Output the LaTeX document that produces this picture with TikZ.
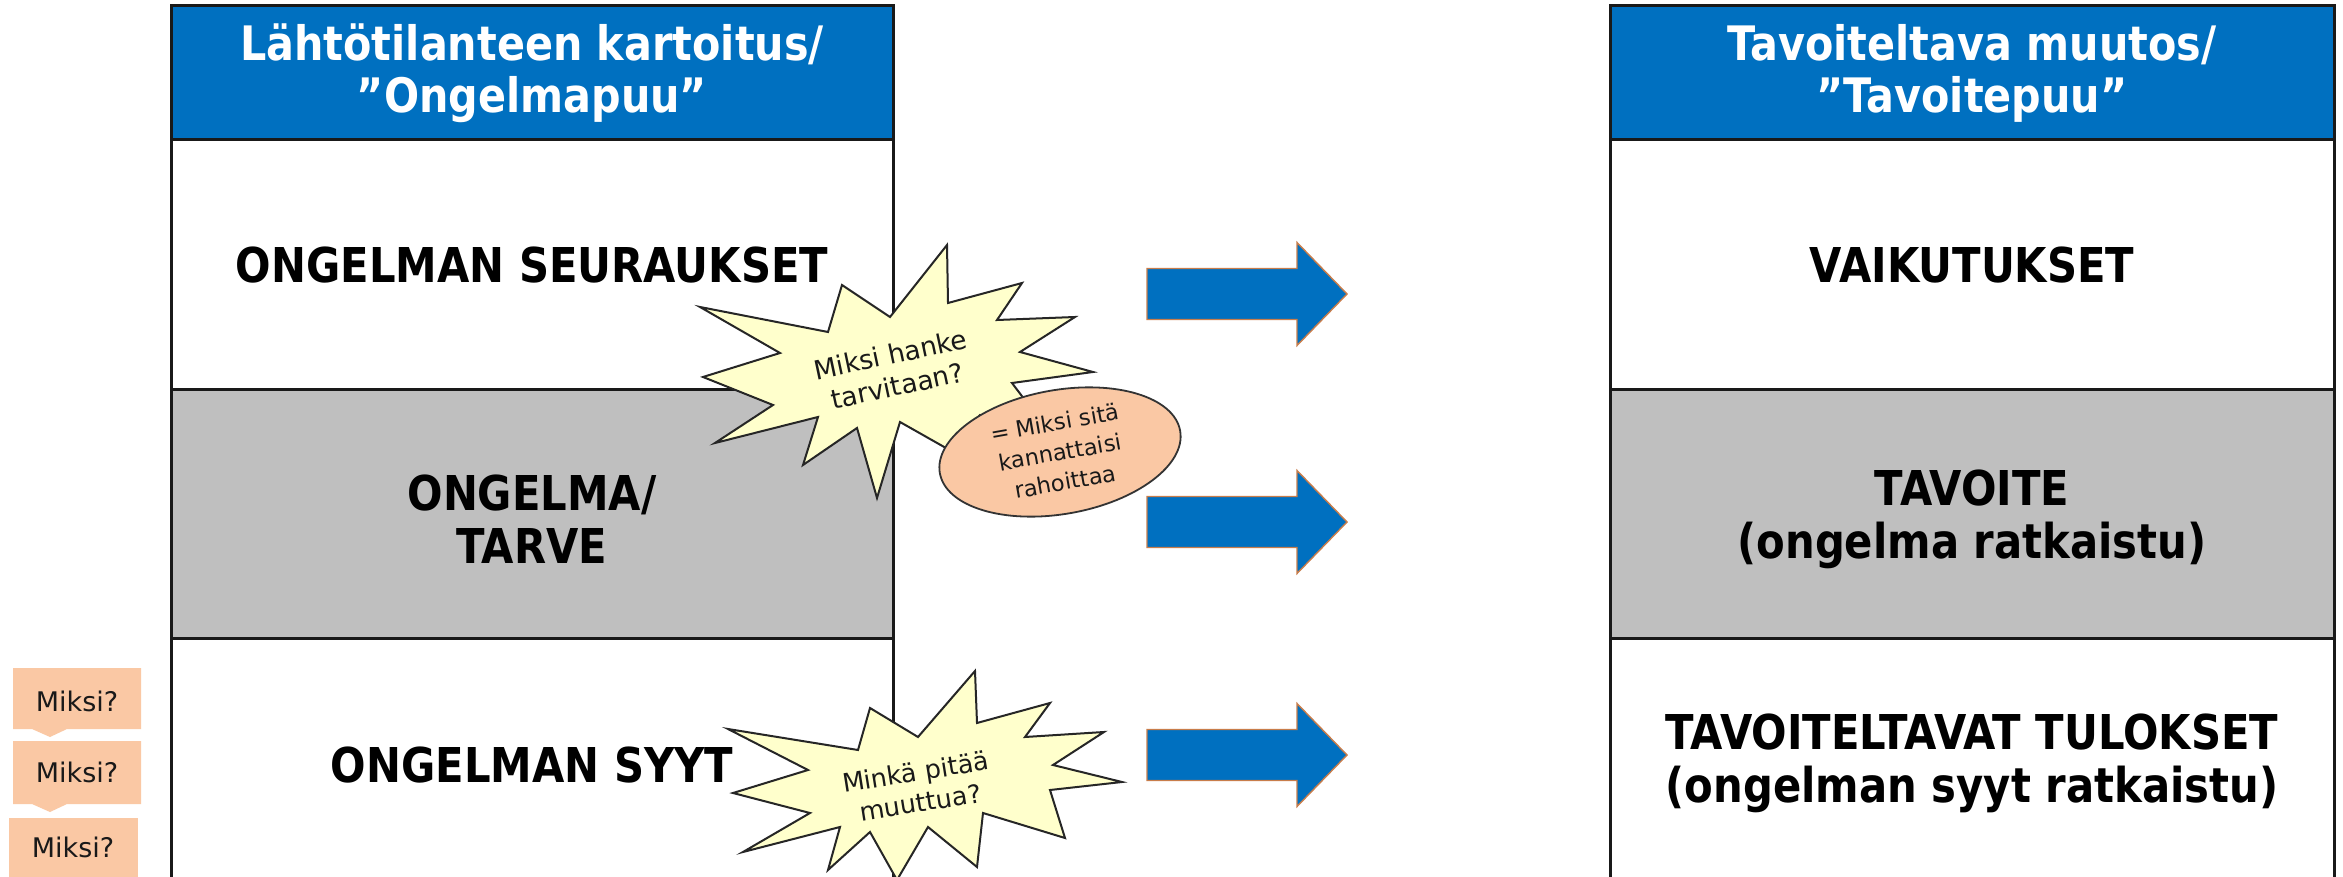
\documentclass[tikz,border=0pt]{standalone}
\usepackage{fontspec}
\setmainfont{DejaVu Sans}
\newfontfamily\condfont[FakeStretch=0.87]{DejaVu Sans}
\usetikzlibrary{shapes.geometric}
\definecolor{hdrblue}{RGB}{0,112,192}
\definecolor{rowgray}{RGB}{191,191,191}
\definecolor{burstfill}{RGB}{255,255,204}
\definecolor{peach}{RGB}{250,200,164}
\definecolor{arrowedge}{RGB}{200,125,75}
\begin{document}
\begin{tikzpicture}[x=1pt,y=-1pt,
  cell/.style={rectangle, draw=black!90, line width=3pt, inner sep=0pt, outer sep=0pt},
  lcell/.style={cell, minimum width=722pt},
  rcell/.style={cell, minimum width=724pt},
  hdrtext/.style={text=white, align=center, font=\condfont\bfseries\fontsize{47.5}{52}\selectfont},
  rowtext/.style={text=black, align=center, font=\condfont\bfseries\fontsize{48}{53}\selectfont},
  burst/.style={draw=black!85, line width=2pt, fill=burstfill, line join=miter},
  bursttext/.style={align=center, inner sep=0pt, text=black!90},
  bigarrow/.style={fill=hdrblue, draw=arrowedge, line width=1.4pt},
  whybox/.style={fill=peach},
  whytext/.style={font=\fontsize{27}{30}\selectfont, text=black!90, inner sep=0pt}
]
\clip (0,0) rectangle (2343,877);
\fill[white] (0,0) rectangle (2343,877);

% left column
\node[lcell, fill=hdrblue, minimum height=134pt] (lhead) at (532,73) {};
\node[lcell, fill=white, minimum height=249pt] (lrowA) at (532,264.5) {};
\node[lcell, fill=rowgray, minimum height=249pt] (lrowB) at (532,513.5) {};
\node[lcell, fill=white, minimum height=280pt] (lrowC) at (532,778) {};
% right column
\node[rcell, fill=hdrblue, minimum height=134pt] (rhead) at (1972,73) {};
\node[rcell, fill=white, minimum height=249pt] (rrowA) at (1972,264.5) {};
\node[rcell, fill=rowgray, minimum height=249pt] (rrowB) at (1972,513.5) {};
\node[rcell, fill=white, minimum height=280pt] (rrowC) at (1972,778) {};

% texts
\node[hdrtext] (lheadtxt) at (532,73) {Lähtötilanteen kartoitus/\\”Ongelmapuu”};
\node[hdrtext] (rheadtxt) at (1972,73) {Tavoiteltava muutos/\\”Tavoitepuu”};
\node[rowtext] (ltA) at (532,265) {ONGELMAN SEURAUKSET};
\node[rowtext] (ltB) at (532,519) {ONGELMA/\\TARVE};
\node[rowtext] (ltC) at (532,765) {ONGELMAN SYYT};
\node[rowtext] (rtA) at (1972,265) {VAIKUTUKSET};
\node[rowtext] (rtB) at (1972,519) {TAVOITE\\(ongelma ratkaistu)};
\node[rowtext] (rtC) at (1972,763) {TAVOITELTAVAT TULOKSET\\(ongelman syyt ratkaistu)};

% block arrows
\foreach \yc in {294,522,755}{
  \draw[bigarrow] (1147,\yc-25.5) -- (1297,\yc-25.5) -- (1297,\yc-51.5) -- (1347,\yc)
    -- (1297,\yc+51.5) -- (1297,\yc+25.5) -- (1147,\yc+25.5) -- cycle;
}

% starburst 1
\draw[burst] (947,245) -- (948,303) -- (1022,283) -- (997,320) -- (1075,317) -- (1020,352)
  -- (1093,372) -- (1012,383) -- (1040,420) -- (980,415) -- (953,452) -- (900,422)
  -- (877,498) -- (857,428) -- (803,465) -- (818,417) -- (715,443) -- (773,405)
  -- (703,377) -- (780,353) -- (700,307) -- (828,332) -- (842,285) -- (890,317) -- cycle;
\node[bursttext, rotate=12, font=\fontsize{26.5}{32}\selectfont] (whyproj) at (894,370) {Miksi hanke\\tarvitaan?};

% ellipse
\node[ellipse, draw=black!80, line width=1.8pt, fill=peach, minimum width=244pt, minimum height=124pt,
  inner sep=0pt, rotate=10, align=center, text=black!90, font=\fontsize{22.5}{30}\selectfont] (fund) at (1060,452)
  {= Miksi sitä\\kannattaisi\\rahoittaa};

% starburst 2
\draw[burst] (975,671) -- (977,723) -- (1050,703) -- (1025,737) -- (1104,732) -- (1053,765)
  -- (1122,782) -- (1050,790) -- (1065,838) -- (983,813) -- (977,867) -- (928,827)
  -- (897,880) -- (870,832) -- (828,870) -- (840,827) -- (743,852) -- (810,813)
  -- (733,793) -- (808,770) -- (728,729) -- (858,750) -- (870,708) -- (918,737) -- cycle;
\node[bursttext, rotate=9, font=\fontsize{25.5}{31}\selectfont] (whychange) at (918,787) {Minkä pitää\\muuttua?};

% Miksi? callouts
\fill[whybox] (13,668) -- (141,668) -- (141,729) -- (67,729) -- (50,737) -- (32,729) -- (13,729) -- cycle;
\node[whytext] (whyA) at (77,701) {Miksi?};
\fill[whybox] (13,741) -- (141,741) -- (141,804) -- (67,804) -- (50,812) -- (32,804) -- (13,804) -- cycle;
\node[whytext] (whyB) at (77,772) {Miksi?};
\fill[whybox] (9,818) -- (138,818) -- (138,880) -- (9,880) -- cycle;
\node[whytext] (whyC) at (73,847) {Miksi?};
\end{tikzpicture}
\end{document}
